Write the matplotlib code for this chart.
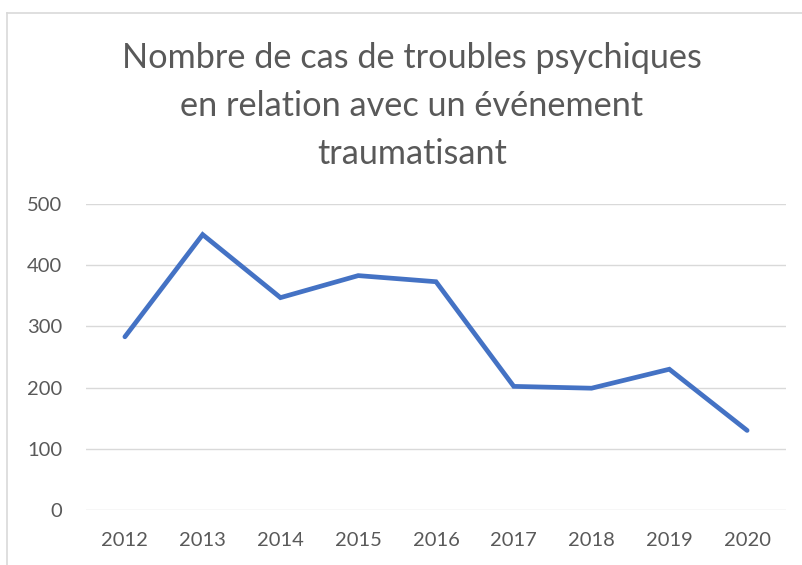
import matplotlib.pyplot as plt
from matplotlib.lines import Line2D

# Données
annees = ["2012", "2013", "2014", "2015", "2016", "2017", "2018", "2019", "2020"]
nb_cas = [283, 450, 347, 383, 373, 202, 199, 230, 130]
y_ticks = [0, 100, 200, 300, 400, 500]

titre = "Nombre de cas de troubles psychiques\nen relation avec un événement\ntraumatisant"

plt.rcParams['font.family'] = ['Lato', 'DejaVu Sans']
gris_texte = "#595959"

W, H = 803, 565
fig = plt.figure(figsize=(W / 100, H / 100), dpi=100)

# cadre du graphique (coin haut gauche visible)
fig.add_artist(Line2D([7 / W, 7 / W], [0, 1 - 13 / H], color="#D9D9D9", lw=1.2))
fig.add_artist(Line2D([7 / W, 1], [1 - 13 / H, 1 - 13 / H], color="#D9D9D9", lw=1.2))

ax = fig.add_axes([86 / W, 1 - 510 / H, 700 / W, 306 / H])
x = list(range(len(annees)))
ax.plot(x, nb_cas, color="#4472C4", linewidth=3.4, solid_joinstyle="miter",
        solid_capstyle="round", zorder=3)

ax.set_xlim(-0.5, len(annees) - 0.5)
ax.set_ylim(0, 500)
ax.set_yticks(y_ticks)
ax.set_xticks(x)
ax.set_xticklabels(annees)
ax.yaxis.grid(True, color="#D9D9D9", linewidth=1.0)
ax.set_axisbelow(True)
for s in ax.spines.values():
    s.set_visible(False)
ax.tick_params(length=0, labelsize=14.5, colors=gris_texte)
ax.tick_params(axis="y", pad=17)
ax.tick_params(axis="x", pad=16)

fig.text(412 / W, 1 - 106 / H, titre, ha="center", va="center",
         fontsize=24.7, color=gris_texte, linespacing=1.6)

plt.savefig("out.png", dpi=100)
